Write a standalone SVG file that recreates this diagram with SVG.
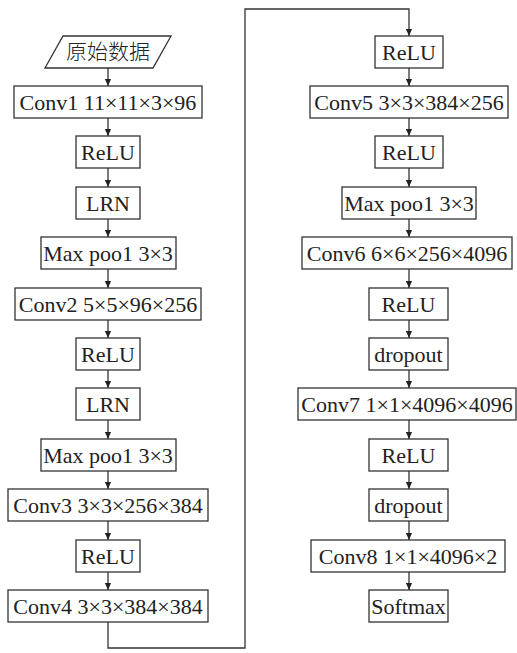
<svg xmlns="http://www.w3.org/2000/svg" width="517" height="653" viewBox="0 0 517 653">
<defs>
<style>
.b{fill:#fff;stroke:#333;stroke-width:1.3}
.t{font-family:"Liberation Serif","Times New Roman",serif;font-size:22px;fill:#222;text-anchor:middle}
.c{font-family:"Noto Sans CJK SC",sans-serif;font-size:21px;fill:#222;text-anchor:middle;font-weight:300}
.l{fill:none;stroke:#333;stroke-width:1.3}
</style>
<marker id="a" viewBox="0 0 8 8" refX="8" refY="4" markerWidth="7" markerHeight="7" markerUnits="userSpaceOnUse" orient="auto">
<path d="M0,0.5 L8,4 L0,7.5 Z" fill="#222"/>
</marker>
</defs>
<rect width="517" height="653" fill="#fff"/>
<g id="connectors">
<line class="l" x1="108" y1="68" x2="108" y2="86" marker-end="url(#a)"/>
<line class="l" x1="108" y1="118" x2="108" y2="136" marker-end="url(#a)"/>
<line class="l" x1="108" y1="168" x2="108" y2="187" marker-end="url(#a)"/>
<line class="l" x1="108" y1="219" x2="108" y2="237" marker-end="url(#a)"/>
<line class="l" x1="108" y1="269" x2="108" y2="288" marker-end="url(#a)"/>
<line class="l" x1="108" y1="320" x2="108" y2="338" marker-end="url(#a)"/>
<line class="l" x1="108" y1="370" x2="108" y2="388" marker-end="url(#a)"/>
<line class="l" x1="108" y1="420" x2="108" y2="439" marker-end="url(#a)"/>
<line class="l" x1="108" y1="471" x2="108" y2="489" marker-end="url(#a)"/>
<line class="l" x1="108" y1="521" x2="108" y2="540" marker-end="url(#a)"/>
<line class="l" x1="108" y1="572" x2="108" y2="590" marker-end="url(#a)"/>
<polyline class="l" points="108,622 108,648 245,648 245,9 409,9 409,36" marker-end="url(#a)"/>
<line class="l" x1="409" y1="68" x2="409" y2="86" marker-end="url(#a)"/>
<line class="l" x1="409" y1="118" x2="409" y2="136" marker-end="url(#a)"/>
<line class="l" x1="409" y1="168" x2="409" y2="187" marker-end="url(#a)"/>
<line class="l" x1="409" y1="219" x2="409" y2="237" marker-end="url(#a)"/>
<line class="l" x1="409" y1="269" x2="409" y2="288" marker-end="url(#a)"/>
<line class="l" x1="409" y1="320" x2="409" y2="338" marker-end="url(#a)"/>
<line class="l" x1="409" y1="370" x2="409" y2="388" marker-end="url(#a)"/>
<line class="l" x1="409" y1="420" x2="409" y2="439" marker-end="url(#a)"/>
<line class="l" x1="409" y1="471" x2="409" y2="489" marker-end="url(#a)"/>
<line class="l" x1="409" y1="521" x2="409" y2="540" marker-end="url(#a)"/>
<line class="l" x1="409" y1="572" x2="409" y2="590" marker-end="url(#a)"/>
</g>
<g id="input"><polygon class="b" points="63,36 171,36 153,68 45,68"/><text class="c" x="108" y="59">原始数据</text></g>
<g id="conv1"><rect class="b" x="14" y="86" width="188" height="32"/><text class="t" x="108" y="109.5">Conv1 11×11×3×96</text></g>
<g id="relu1"><rect class="b" x="76" y="136" width="64" height="32"/><text class="t" x="108" y="159.5">ReLU</text></g>
<g id="lrn1"><rect class="b" x="76" y="187" width="64" height="32"/><text class="t" x="108" y="210.5">LRN</text></g>
<g id="pool1"><rect class="b" x="41" y="237" width="135" height="32"/><text class="t" x="108" y="260.5">Max poo1 3×3</text></g>
<g id="conv2"><rect class="b" x="15" y="288" width="186" height="32"/><text class="t" x="108" y="311.5">Conv2 5×5×96×256</text></g>
<g id="relu2"><rect class="b" x="76" y="338" width="64" height="32"/><text class="t" x="108" y="361.5">ReLU</text></g>
<g id="lrn2"><rect class="b" x="76" y="388" width="64" height="32"/><text class="t" x="108" y="411.5">LRN</text></g>
<g id="pool2"><rect class="b" x="41" y="439" width="135" height="32"/><text class="t" x="108" y="462.5">Max poo1 3×3</text></g>
<g id="conv3"><rect class="b" x="8" y="489" width="200" height="32"/><text class="t" x="108" y="512.5">Conv3 3×3×256×384</text></g>
<g id="relu3"><rect class="b" x="76" y="540" width="64" height="32"/><text class="t" x="108" y="563.5">ReLU</text></g>
<g id="conv4"><rect class="b" x="8" y="590" width="200" height="32"/><text class="t" x="108" y="613.5">Conv4 3×3×384×384</text></g>
<g id="relu4"><rect class="b" x="375" y="36" width="68" height="32"/><text class="t" x="409" y="59.5">ReLU</text></g>
<g id="conv5"><rect class="b" x="310" y="86" width="198" height="32"/><text class="t" x="409" y="109.5">Conv5 3×3×384×256</text></g>
<g id="relu5"><rect class="b" x="375" y="136" width="68" height="32"/><text class="t" x="409" y="159.5">ReLU</text></g>
<g id="pool3"><rect class="b" x="342" y="187" width="134" height="32"/><text class="t" x="409" y="210.5">Max poo1 3×3</text></g>
<g id="conv6"><rect class="b" x="302" y="237" width="210" height="32"/><text class="t" x="407" y="260.5">Conv6 6×6×256×4096</text></g>
<g id="relu6"><rect class="b" x="369" y="288" width="79" height="32"/><text class="t" x="408.5" y="311.5">ReLU</text></g>
<g id="drop1"><rect class="b" x="369" y="338" width="79" height="32"/><text class="t" x="408.5" y="361.5">dropout</text></g>
<g id="conv7"><rect class="b" x="298" y="388" width="218" height="32"/><text class="t" x="407" y="411.5">Conv7 1×1×4096×4096</text></g>
<g id="relu7"><rect class="b" x="369" y="439" width="79" height="32"/><text class="t" x="408.5" y="462.5">ReLU</text></g>
<g id="drop2"><rect class="b" x="369" y="489" width="79" height="32"/><text class="t" x="408.5" y="512.5">dropout</text></g>
<g id="conv8"><rect class="b" x="311" y="540" width="194" height="32"/><text class="t" x="408" y="563.5">Conv8 1×1×4096×2</text></g>
<g id="softmax"><rect class="b" x="369" y="590" width="79" height="32"/><text class="t" x="408.5" y="613.5">Softmax</text></g>
</svg>
